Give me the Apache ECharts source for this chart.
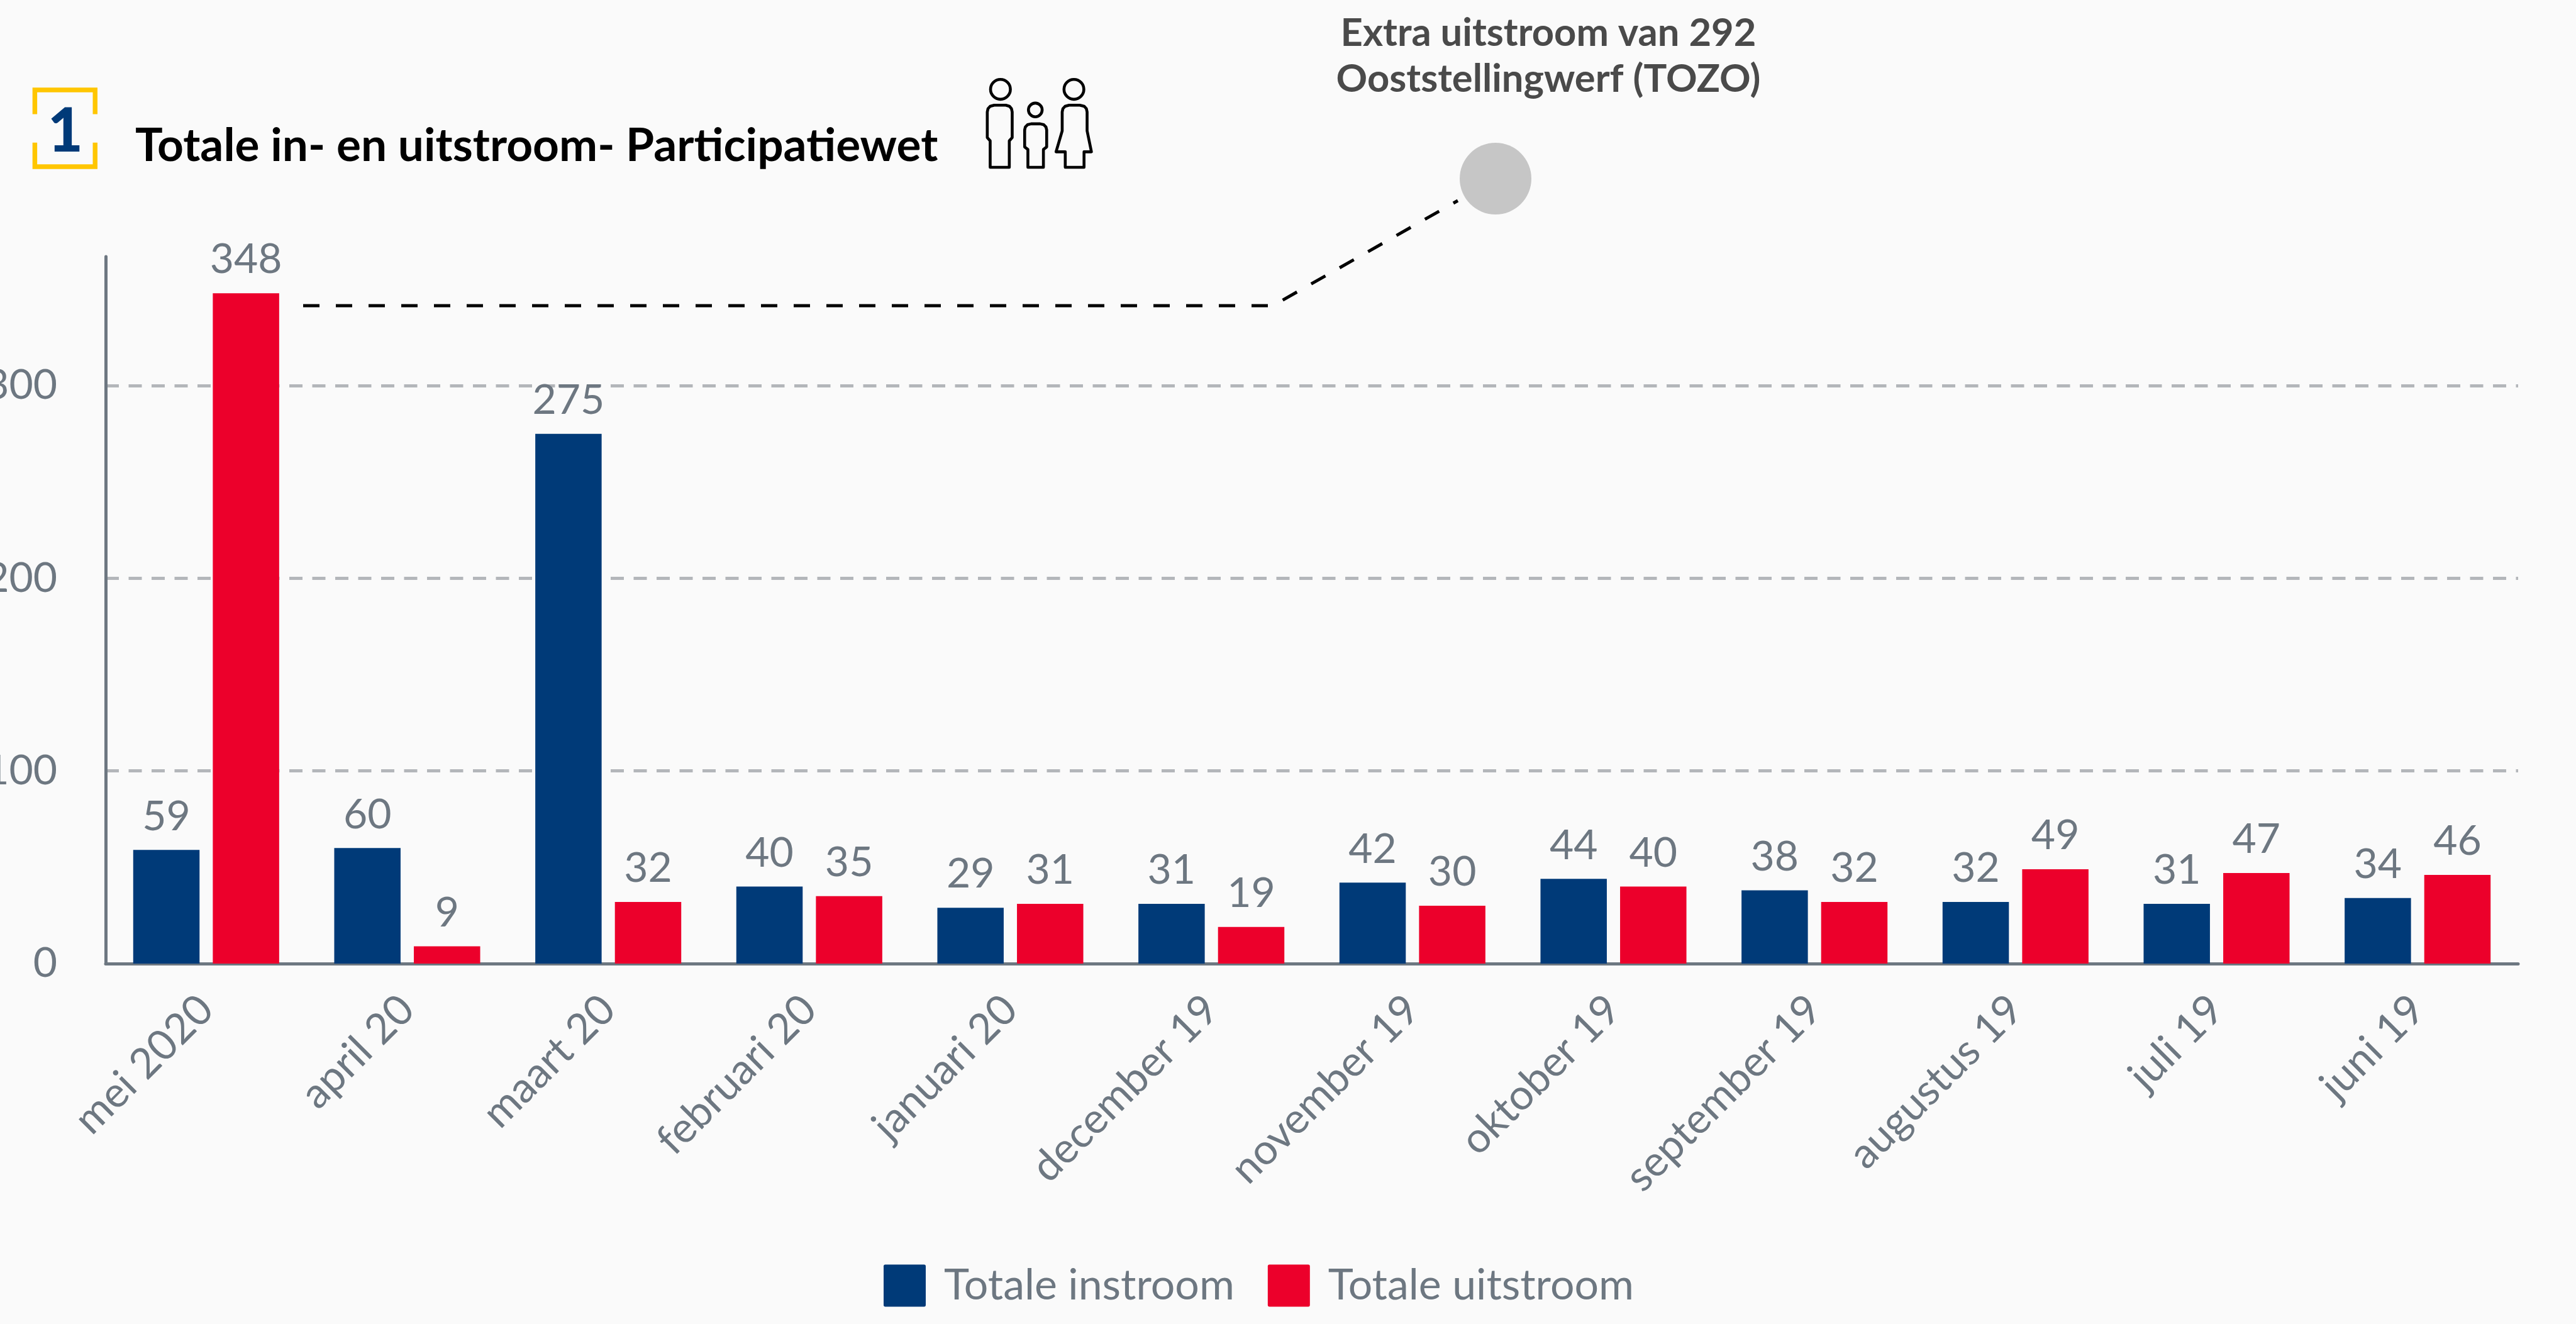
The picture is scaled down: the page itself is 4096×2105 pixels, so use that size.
<!DOCTYPE html>
<html>
<head>
<meta charset="utf-8">
<title>Totale in- en uitstroom</title>
<script src="https://cdn.jsdelivr.net/npm/echarts@6/dist/echarts.min.js"></script>
<style>
  html, body { margin: 0; padding: 0; background: #fafafa; }
  #chart { width: 4096px; height: 2105px; }
</style>
</head>
<body>
<div id="chart"></div>
<script>
var titleText = "Totale in- en uitstroom- Participatiewet";
var noteText = "Extra uitstroom van 292\nOoststellingwerf (TOZO)";
var months = ["mei 2020", "april 20", "maart 20", "februari 20", "januari 20", "december 19",
  "november 19", "oktober 19", "september 19", "augustus 19", "juli 19", "juni 19"];
var instroom = [59, 60, 275, 40, 29, 31, 42, 44, 38, 32, 31, 34];
var uitstroom = [348, 9, 32, 35, 31, 19, 30, 40, 32, 49, 47, 46];

var grey = "#6d7781";
var fontName = "Lato";

function barSeries(name, values, color) {
  return {
    name: name,
    type: "bar",
    data: values,
    barWidth: "33%",
    barGap: "20%",
    itemStyle: { color: color },
    label: {
      show: true,
      position: "top",
      distance: 20,
      color: grey,
      fontFamily: fontName,
      fontSize: 66
    }
  };
}

function iconLine(points) {
  return { type: "polygon", shape: { points: points }, style: { stroke: "#000", fill: null, lineWidth: 16, lineJoin: "round" } };
}
function iconHead(cx, cy, r) {
  return { type: "circle", shape: { cx: cx, cy: cy, r: r }, style: { stroke: "#000", fill: null, lineWidth: 16 } };
}

var chart = echarts.init(document.getElementById("chart"));
chart.setOption({
  animation: false,
  backgroundColor: "#fafafa",
  title: {
    text: titleText,
    left: 215,
    top: 196,
    padding: 0,
    textStyle: { color: "#000", fontFamily: fontName, fontWeight: "bold", fontSize: 73 }
  },
  legend: {
    left: 1405,
    top: 2010,
    padding: 0,
    itemWidth: 67,
    itemHeight: 68,
    itemGap: 53,
    icon: "path://M4 0H96Q100 0 100 4V96Q100 100 96 100H4Q0 100 0 96V4Q0 0 4 0Z",
    textStyle: { color: grey, fontFamily: fontName, fontSize: 68, padding: [0, 0, 0, 24] },
    data: ["Totale instroom", "Totale uitstroom"]
  },
  grid: { left: 168, right: 92, top: 408, bottom: 573, outerBoundsMode: "none" },
  xAxis: {
    type: "category",
    data: months,
    axisTick: { show: false },
    axisLine: { lineStyle: { color: grey, width: 5 } },
    axisLabel: { rotate: 45, margin: 62, color: grey, fontFamily: fontName, fontSize: 67, interval: 0 }
  },
  yAxis: {
    type: "value",
    min: 0,
    max: 367,
    interval: 100,
    axisLine: { show: true, lineStyle: { color: grey, width: 5 } },
    axisTick: { show: false },
    axisLabel: { margin: 77, color: grey, fontFamily: fontName, fontSize: 66, showMaxLabel: false },
    splitLine: {
      showMinLine: false,
      showMaxLine: false,
      lineStyle: { color: "#b3b6ba", width: 5, type: [21, 15.5] }
    }
  },
  series: [
    barSeries("Totale instroom", instroom, "#003a78"),
    barSeries("Totale uitstroom", uitstroom, "#ec002b")
  ],
  graphic: [
    // gele haken met cijfer
    {
      type: "group", x: 25.83, y: 111.93, scaleX: 0.287, scaleY: 0.287,
      children: [
        { type: "polyline", shape: { points: [[103, 242], [103, 108], [437, 108], [437, 242]] }, style: { stroke: "#ffc600", fill: null, lineWidth: 26 } },
        { type: "polyline", shape: { points: [[103, 400], [103, 533], [437, 533], [437, 400]] }, style: { stroke: "#ffc600", fill: null, lineWidth: 26 } }
      ]
    },
    {
      type: "text", x: 104, y: 210,
      style: { text: "1", fill: "#003a78", fontFamily: fontName, fontWeight: 900, fontSize: 97, textAlign: "center", textVerticalAlign: "middle" }
    },
    // poppetjes
    {
      type: "group", x: 1509, y: 86.1, scaleX: 0.287, scaleY: 0.287,
      children: [
        iconHead(285, 195, 55),
        iconLine([[228, 627], [228, 480], [212, 462], [212, 320], [216, 302], [228, 289], [250, 283], [315, 283], [335, 289], [346, 302], [350, 320], [350, 462], [334, 480], [334, 627]]),
        iconHead(478, 309, 38),
        iconLine([[437, 627], [437, 528], [419, 514], [419, 420], [423, 403], [435, 391], [455, 386], [505, 386], [525, 391], [537, 403], [541, 420], [541, 514], [523, 528], [523, 627]]),
        iconHead(692, 195, 55),
        iconLine([[644, 627], [644, 541], [593, 541], [627, 425], [627, 320], [631, 302], [643, 289], [665, 283], [725, 283], [749, 289], [761, 302], [765, 320], [765, 425], [789, 541], [748, 541], [748, 627]])
      ]
    },
    // toelichting
    {
      type: "text", x: 2462, y: 90,
      style: { text: noteText, fill: "#4a4a4a", fontFamily: fontName, fontWeight: "bold", fontSize: 61.5, lineHeight: 73, textAlign: "center", textVerticalAlign: "middle" }
    },
    { type: "circle", shape: { cx: 2378, cy: 284, r: 57 }, style: { fill: "#c6c6c6" } },
    {
      type: "polyline",
      shape: { points: [[482, 486], [2024, 486], [2318, 319]] },
      style: { stroke: "#000", fill: null, lineWidth: 5, lineDash: [26, 26] }
    }
  ]
});
</script>
</body>
</html>
